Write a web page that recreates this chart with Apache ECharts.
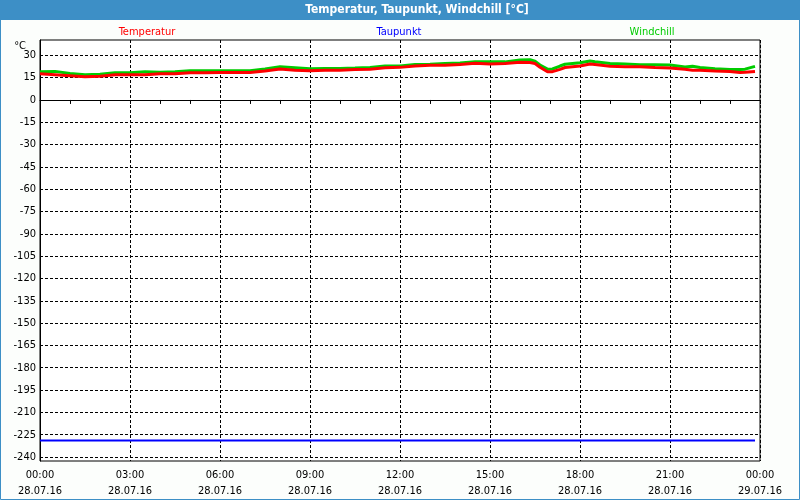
<!DOCTYPE html>
<html>
<head>
<meta charset="utf-8">
<script src="https://cdn.jsdelivr.net/npm/echarts@6/dist/echarts.min.js"></script>
<style>
html,body{margin:0;padding:0;background:#fcfefc;}
#c{width:800px;height:500px;}
</style>
</head>
<body>
<div id="c"></div>
<script>
// ---- data ----
const times = ["00:00","00:30","01:00","01:30","02:00","02:30","03:00","03:30","04:00","04:30",
  "05:00","05:30","06:00","06:30","07:00","07:30","08:00","08:30","09:00","09:30",
  "10:00","10:30","11:00","11:30","12:00","12:30","13:00","13:30","14:00","14:30",
  "15:00","15:30","16:00","16:20","16:30","16:40","16:55","17:05","17:20","17:30",
  "18:00","18:20","18:30","19:00","19:30","20:00","20:30","21:00","21:30","21:45",
  "22:00","22:30","23:00","23:20","23:30","23:50"];
const temperatur = [17.6,17.0,16.3,15.6,16.0,17.0,17.0,17.0,17.6,17.6,
  18.3,18.3,18.4,18.5,18.5,19.5,20.8,20.0,19.7,20.0,
  20.0,20.4,20.7,21.6,21.9,22.8,23.4,23.4,23.8,24.6,
  24.2,24.5,25.4,25.2,24.5,22.0,19.0,19.0,20.6,21.8,
  22.8,24.2,23.8,22.6,22.4,22.4,21.8,21.4,20.6,20.0,
  19.9,19.5,19.2,18.5,18.6,19.2];
const windchill = [18.9,19.2,17.8,17.0,17.3,18.3,18.3,18.9,18.6,18.9,
  19.6,19.6,19.7,19.7,19.7,20.8,22.3,21.6,20.9,21.1,
  21.1,21.4,21.8,22.8,22.9,23.9,24.0,24.5,24.9,25.6,
  25.6,25.6,26.8,27.0,26.0,23.5,20.7,20.8,22.8,24.0,
  25.0,26.2,25.7,24.5,24.2,23.7,23.7,23.5,22.2,22.7,
  21.8,21.0,20.5,20.5,20.7,22.6];
const taupunktTimes = ["00:00","23:50"];
const taupunkt = [-229,-229];
const yTicks = [30,15,0,-15,-30,-45,-60,-75,-90,-105,-120,-135,-150,-165,-180,-195,-210,-225,-240];
const xTickTimes = ["00:00","03:00","06:00","09:00","12:00","15:00","18:00","21:00","00:00"];
const xTickDates = ["28.07.16","28.07.16","28.07.16","28.07.16","28.07.16","28.07.16","28.07.16","28.07.16","29.07.16"];
const titleText = "Temperatur, Taupunkt, Windchill [°C]";
const seriesNames = ["Temperatur","Taupunkt","Windchill"];
const unitText = "°C";

// ---- build ----
function toH(t){const p=t.split(":");return (+p[0])+(+p[1])/60;}
const pairs=(ts,vs)=>ts.map((t,i)=>[toH(t),vs[i]]);
const FONT="'DejaVu Sans Condensed','Liberation Sans',sans-serif";
const chart=echarts.init(document.getElementById('c'),null,{renderer:'canvas'});
chart.setOption({
  animation:false,
  backgroundColor:'#fcfefc',
  grid:{left:40,right:40,top:40,bottom:39,show:true,backgroundColor:'#ffffff',borderColor:'#000',borderWidth:1,containLabel:false},
  graphic:[
    {type:'rect',shape:{x:0,y:0,width:800,height:20},style:{fill:'#3d8fc6'},silent:true},
    {type:'rect',shape:{x:0.5,y:0.5,width:799,height:499},style:{fill:'none',stroke:'#3d8fc6',lineWidth:1},silent:true},
    {type:'text',style:{text:titleText,x:417,y:10,align:'center',verticalAlign:'middle',fill:'#fff',font:'bold 12px '+FONT}},
    {type:'text',style:{text:seriesNames[0],x:147,y:32,align:'center',verticalAlign:'middle',fill:'#ff0000',font:'11px '+FONT}},
    {type:'text',style:{text:seriesNames[1],x:399,y:32,align:'center',verticalAlign:'middle',fill:'#0000ff',font:'11px '+FONT}},
    {type:'text',style:{text:seriesNames[2],x:652,y:32,align:'center',verticalAlign:'middle',fill:'#00cc00',font:'11px '+FONT}},
    {type:'text',style:{text:unitText,x:26,y:46,align:'right',verticalAlign:'middle',fill:'#000',font:'11px '+FONT}}
  ],
  xAxis:{type:'value',min:0,max:24,interval:3,
    axisLine:{show:true,lineStyle:{color:'#000',width:1}},
    axisTick:{show:true,length:4,inside:false,lineStyle:{color:'#000'}},
    minorTick:{show:true,splitNumber:3,length:4,lineStyle:{color:'#000'}},
    splitLine:{show:true,lineStyle:{color:'#000',type:[3,2],width:1}},
    axisLabel:{margin:6,color:'#000',fontFamily:FONT,fontSize:11,lineHeight:16,
      formatter:(v)=>{const i=Math.round(v/3);return xTickTimes[i]+"\n"+xTickDates[i];}}
  },
  yAxis:{type:'value',min:-242.7,max:40.3,
    axisLine:{show:true,lineStyle:{color:'#000',width:1}},
    axisTick:{show:false,customValues:yTicks},
    splitLine:{show:true,lineStyle:{color:'#000',type:[3,2],width:1}},
    axisLabel:{customValues:yTicks,margin:4,color:'#000',fontFamily:FONT,fontSize:11}
  },
  series:[
    {name:seriesNames[2],type:'line',data:pairs(times,windchill),showSymbol:false,lineStyle:{color:'#00cc00',width:3},z:2},
    {name:seriesNames[0],type:'line',data:pairs(times,temperatur),showSymbol:false,lineStyle:{color:'#ff0000',width:3},z:3},
    {name:seriesNames[1],type:'line',data:pairs(taupunktTimes,taupunkt),showSymbol:false,lineStyle:{color:'#0000ff',width:2},z:3}
  ]
});
</script>
</body>
</html>
